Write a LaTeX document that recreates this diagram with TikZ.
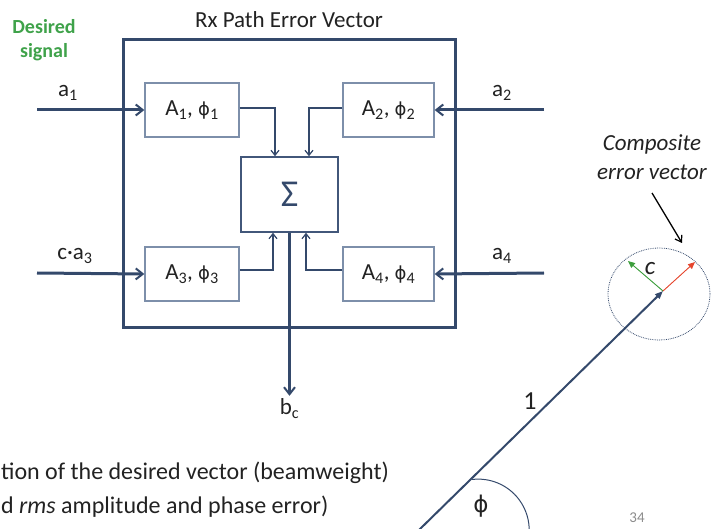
\documentclass[tikz,border=0pt]{standalone}
\usepackage{fontspec}
\setmainfont{Carlito}
\newfontfamily\phifont{DejaVu Sans}
\usetikzlibrary{arrows.meta, positioning, calc, shapes.geometric}

\definecolor{navy}{HTML}{34496B}
\definecolor{boxline}{HTML}{7D8FAA}
\definecolor{sigline}{HTML}{42577A}
\definecolor{desgreen}{HTML}{3FA24A}
\definecolor{errgreen}{HTML}{3C9E3C}
\definecolor{errred}{HTML}{E5462E}
\definecolor{txt}{HTML}{222222}

\newcommand{\ph}{{\phifont\fontsize{18}{24}\selectfont ϕ}}

\begin{document}
\begin{tikzpicture}[x=1pt, y=-1pt,
  blk/.style={draw=boxline, line width=1.3pt, minimum width=94pt,
              minimum height=54pt, inner sep=0pt, text=txt,
              font=\fontsize{23}{26}\selectfont},
  sumbox/.style={draw=sigline, line width=1.6pt, minimum width=97pt,
                 minimum height=75pt, inner sep=0pt, text=navy,
                 font=\fontsize{38}{42}\selectfont},
  frame/.style={draw=navy, line width=3pt, minimum width=332pt,
                minimum height=288pt, inner sep=0pt},
  bigarrow/.style={-{Straight Barb[length=7pt, width=11pt, line width=2pt]},
                   line width=3pt, draw=navy},
  thinarrow/.style={-{Straight Barb[length=5pt, width=8pt, line width=1.2pt]},
                    line width=1.3pt, draw=navy},
  lbl/.style={text=txt, font=\fontsize{23}{26}\selectfont, inner sep=1pt},
  vec/.style={-{Triangle[length=8pt, width=6pt]}, line width=2pt, draw=navy},
  errvec/.style={-{Triangle[length=7pt, width=6pt]}, line width=0.9pt}
]
\useasboundingbox (0,0) rectangle (715,529);
\clip (0,0) rectangle (715,529);

% error model block
\node[frame] (frame) at (289,184) {};
\node[lbl] (title) at (289,20) {Rx Path Error Vector};
\node[text=desgreen, font=\bfseries\fontsize{20}{24}\selectfont, align=center]
  (desired) at (44,40) {Desired\\signal};

\node[blk] (A1) at (192,110) {A\textsubscript{1}, \ph\textsubscript{1}};
\node[blk, minimum width=91pt] (A2) at (388.5,110) {A\textsubscript{2}, \ph\textsubscript{2}};
\node[blk] (A3) at (192,274) {A\textsubscript{3}, \ph\textsubscript{3}};
\node[blk, minimum width=91pt] (A4) at (388.5,274) {A\textsubscript{4}, \ph\textsubscript{4}};
\node[sumbox] (sum) at (289.5,194.5) {Σ};

\coordinate (in1) at (37,110);
\coordinate (in2) at (544,110);
\coordinate (in3) at (37,273);
\coordinate (in4) at (544,273);

\draw[bigarrow] (in1) -- (A1.west);
\draw[bigarrow] (in2) -- (A2.east);
\draw[bigarrow] (in3) -- (A3.west);
\draw[bigarrow] (in4) -- (A4.east);
\node[lbl] (a1) at (68,93) {a\textsubscript{1}};
\node[lbl] (a2) at (502,93) {a\textsubscript{2}};
\node[lbl] (a3) at (75,256) {c·a\textsubscript{3}};
\node[lbl] (a4) at (502,256) {a\textsubscript{4}};

\draw[thinarrow] ([yshift=2pt]A1.east) -| ([xshift=-14.5pt]sum.north);
\draw[thinarrow] ([yshift=2pt]A2.west) -| ([xshift=19.5pt]sum.north);
\draw[thinarrow] ([yshift=4pt]A3.east) -| ([xshift=-16.5pt]sum.south);
\draw[thinarrow] ([yshift=4pt]A4.west) -| ([xshift=16.5pt]sum.south);

\draw[bigarrow] (sum.south) -- ++(0,163) node[lbl, below=0pt] (bc) {b\textsubscript{c}};

% composite error vector
\coordinate (origin) at (420,529);
\coordinate (tip) at (663,291);
\node[ellipse, draw=navy, densely dotted, line width=0.8pt,
      minimum width=102pt, minimum height=92pt] (errcircle) at (659,294) {};
\draw[vec] ($(origin)!-0.1!(tip)$) -- (tip);
\draw[errvec, draw=errgreen, fill=errgreen] (tip) -- (628,261);
\draw[errvec, draw=errred, fill=errred] (tip) -- (695,262);
\node[lbl, font=\itshape\fontsize{25}{26}\selectfont] (c) at (650,269) {c};

\node[lbl, font=\itshape\fontsize{23}{29}\selectfont, align=center]
  (comp) at (652,157) {Composite\\error vector};
\coordinate (ptr) at (682,243);
\draw[-{Straight Barb[length=6pt, width=8pt, line width=1.2pt]}, line width=1.3pt]
  (652,193) -- (ptr);

\node[lbl, font=\fontsize{26}{28}\selectfont] (one) at (530,401) {1};
\draw[navy, line width=1pt] (472,479.5) arc[start angle=-97, end angle=3, radius=51];
\node[lbl, font=\phifont\fontsize{23}{26}\selectfont] (phi) at (481,506) {ϕ};

\node[text=black!45, font=\fontsize{15}{18}\selectfont] (page) at (637,518) {34};

% caption fragment
\node[lbl, anchor=west, font=\fontsize{24}{28}\selectfont] (cap1) at (0,473)
  {tion of the desired vector (beamweight)};
\node[lbl, anchor=west, font=\fontsize{24}{28}\selectfont] (cap2) at (0,507)
  {d \textit{rms} amplitude and phase error)};
\end{tikzpicture}
\end{document}
